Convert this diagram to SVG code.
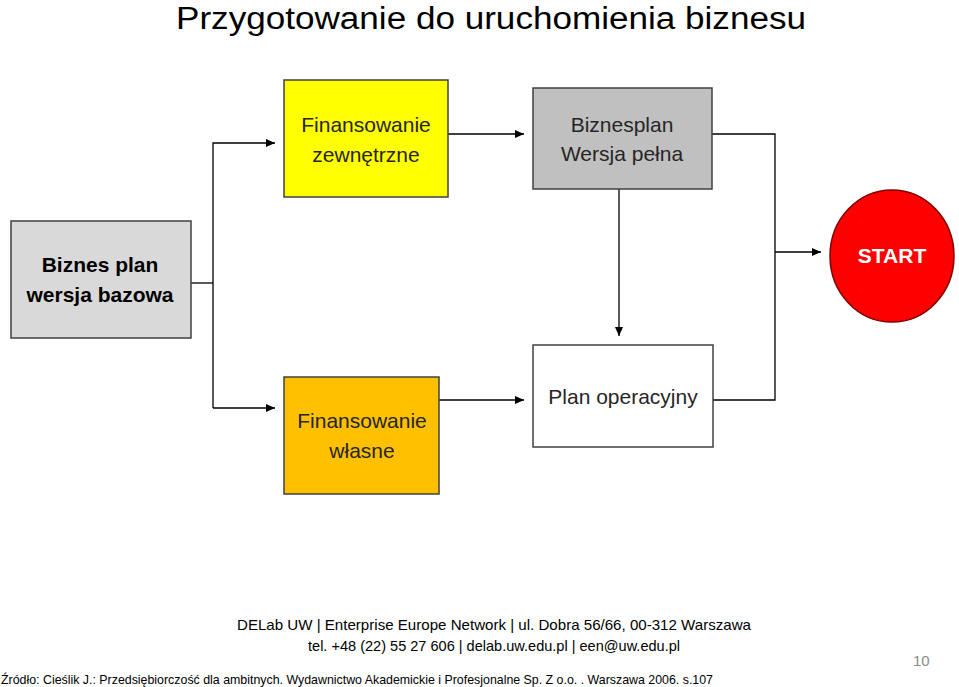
<svg xmlns="http://www.w3.org/2000/svg" width="959" height="687" viewBox="0 0 959 687">
<style>
text{font-family:"Liberation Sans","Open Sans",sans-serif}
.box{stroke:#404040;stroke-width:1.5}
.lbl{font-size:21px;text-anchor:middle;fill:#000}
.lblg{font-size:21px;text-anchor:middle;fill:#262626}
.white{fill:#fff}
.gray{fill:#8c8c8c}
.blk{fill:#000}
.conn{fill:none;stroke:#000;stroke-width:1.3}
</style>
<defs>
<marker id="ah" markerWidth="10" markerHeight="10" refX="9" refY="5" orient="auto" markerUnits="userSpaceOnUse">
<path d="M0,1 L9,5 L0,9 z" fill="#000"/>
</marker>
</defs>
<rect width="959" height="687" fill="#fff"/>
<text class="blk" x="491" y="29" font-size="31" text-anchor="middle" textLength="630" lengthAdjust="spacingAndGlyphs">Przygotowanie do uruchomienia biznesu</text>

<g id="connectors">
<polyline class="conn" points="191,283 213,283"/>
<polyline class="conn" points="213,408 213,143 275,143" marker-end="url(#ah)"/>
<polyline class="conn" points="213,408 275,408" marker-end="url(#ah)"/>
<polyline class="conn" points="448,134 524,134" marker-end="url(#ah)"/>
<polyline class="conn" points="439,400 524,400" marker-end="url(#ah)"/>
<polyline class="conn" points="619,189 619,336" marker-end="url(#ah)"/>
<polyline class="conn" points="712,134 775,134 775,400 713,400"/>
<polyline class="conn" points="775,252 821,252" marker-end="url(#ah)"/>
</g>

<g id="fin-zewn">
<rect class="box" x="284" y="80" width="164" height="117" fill="#FFFF00"/>
<text class="lblg" x="366" y="132">Finansowanie</text>
<text class="lblg" x="366" y="162">zewnętrzne</text>
</g>
<g id="biznesplan-pelna">
<rect class="box" x="533" y="88" width="179" height="101" fill="#C0C0C0"/>
<text class="lblg" x="622" y="132">Biznesplan</text>
<text class="lblg" x="622" y="161">Wersja pełna</text>
</g>
<g id="biznes-bazowa">
<rect class="box" x="11" y="221" width="180" height="117" fill="#D9D9D9"/>
<text class="lbl" x="100" y="272" font-weight="bold">Biznes plan</text>
<text class="lbl" x="100" y="302" font-weight="bold">wersja bazowa</text>
</g>
<g id="start">
<ellipse cx="892" cy="256" rx="62" ry="66" fill="#FF0000" stroke="#7f0000" stroke-width="1.5"/>
<text class="white" x="892" y="263" font-size="21" font-weight="bold" text-anchor="middle">START</text>
</g>
<g id="fin-wlasne">
<rect class="box" x="284" y="377" width="155" height="117" fill="#FFC000"/>
<text class="lblg" x="362" y="428">Finansowanie</text>
<text class="lblg" x="362" y="458">własne</text>
</g>
<g id="plan-operacyjny">
<rect class="box" x="533" y="345" width="180" height="102" fill="#fff"/>
<text class="lblg" x="623" y="404">Plan operacyjny</text>
</g>

<text class="blk" x="494" y="630" font-size="15" text-anchor="middle" textLength="514" lengthAdjust="spacingAndGlyphs">DELab UW | Enterprise Europe Network | ul. Dobra 56/66, 00-312 Warszawa</text>
<text class="blk" x="494" y="651" font-size="15" text-anchor="middle" textLength="372" lengthAdjust="spacingAndGlyphs">tel. +48 (22) 55 27 606 | delab.uw.edu.pl | een@uw.edu.pl</text>
<text class="gray" x="913" y="666" font-size="15">10</text>
<text class="blk" x="1" y="684" font-size="13" textLength="712" lengthAdjust="spacingAndGlyphs">Źródło: Cieślik J.: Przedsiębiorczość dla ambitnych. Wydawnictwo Akademickie i Profesjonalne Sp. Z o.o. . Warszawa 2006. s.107</text>
</svg>
